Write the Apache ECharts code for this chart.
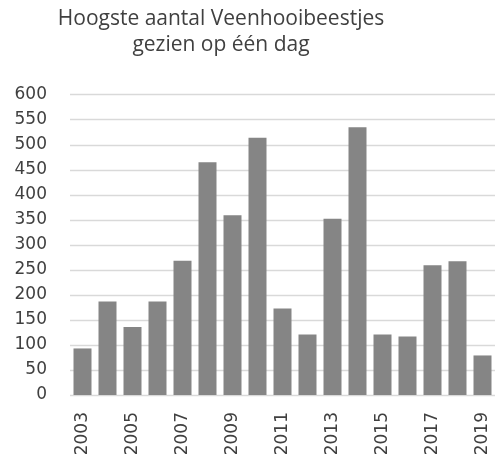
<!DOCTYPE html>
<html><head><meta charset="utf-8">
<script src="https://cdn.jsdelivr.net/npm/echarts@6/dist/echarts.min.js"></script>
<style>html,body{margin:0;padding:0;background:#fff}#c{width:496px;height:459px}</style>
</head><body><div id="c"></div>
<script>
const years = ['2003','2004','2005','2006','2007','2008','2009','2010','2011','2012','2013','2014','2015','2016','2017','2018','2019'];
const counts = [93,187,136,187,268,465,359,514,173,121,352,535,121,117,259,267,79];
const titleLines = ['Hoogste aantal Veenhooibeestjes','gezien op één dag'];

const chart = echarts.init(document.getElementById('c'));
chart.setOption({
  animation:false,
  title:{text:titleLines.join('\n'),left:216,top:1,textAlign:'center',
    textStyle:{fontFamily:'Open Sans',fontWeight:'normal',fontSize:21,color:'#404040',lineHeight:26}},
  grid:{left:70,right:1,top:94.7,bottom:64},
  xAxis:{type:'category',data:years,
    axisLine:{show:false},axisTick:{show:false},
    axisLabel:{interval:1,rotate:90,margin:17,fontFamily:'DejaVu Sans',fontSize:17,color:'#404040'}},
  yAxis:{type:'value',min:0,max:600,interval:50,
    axisLine:{show:false},axisTick:{show:false},
    splitLine:{lineStyle:{color:'#d9d9d9',width:1.3}},
    axisLabel:{margin:23,fontFamily:'DejaVu Sans',fontSize:17,color:'#404040'}},
  series:[{type:'bar',data:counts,barCategoryGap:'28%',itemStyle:{color:'#858585'}}]
});
</script></body></html>
